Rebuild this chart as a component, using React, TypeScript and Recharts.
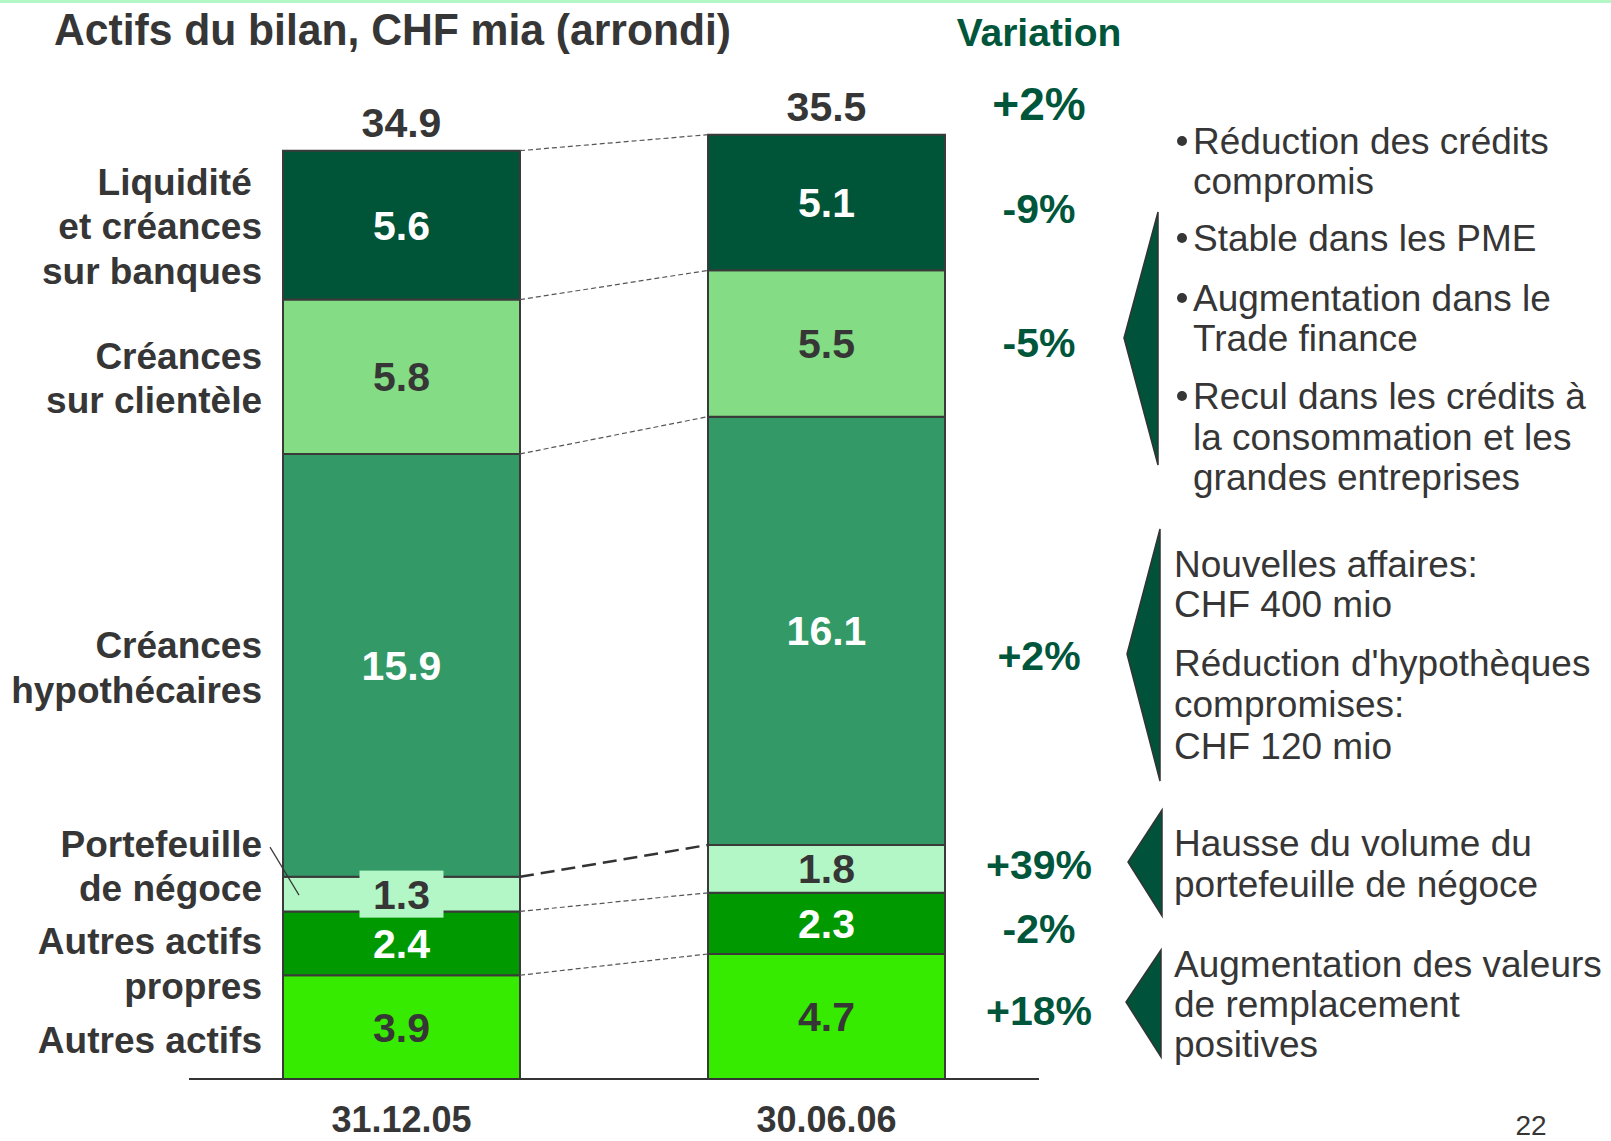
import React from 'react';
import { BarChart, Bar, XAxis, YAxis, LabelList } from 'recharts';

// values in CHF bn (stack order bottom -> top)
const categories = ['31.12.05', '30.06.06'];
const autresActifs = [3.9, 4.7];
const autresPropres = [2.4, 2.3];
const portefeuille = [1.3, 1.8];
const hypotheques = [15.9, 16.1];
const clientele = [5.8, 5.5];
const liquidite = [5.6, 5.1];
const totals = [34.9, 35.5];
const variations = ['+18%', '-2%', '+39%', '+2%', '-5%', '-9%'];
const totalVariation = '+2%';
const seriesLabels = [
  ['Autres actifs'],
  ['Autres actifs', 'propres'],
  ['Portefeuille', 'de négoce'],
  ['Créances', 'hypothécaires'],
  ['Créances', 'sur clientèle'],
  ['Liquidité\u00a0', 'et créances', 'sur banques'],
];

const FONT = '"Liberation Sans", Arial, Helvetica, sans-serif';
const TEXT = '#363636';
const GREEN = '#00563B';
const W = 1611;
const H = 1141;
const MARGIN = { top: 15, right: 572, bottom: 12, left: 189 };
const PLOT_W = W - MARGIN.left - MARGIN.right;
const BAR_SIZE = 237;

const series = [
  { key: 'autres', values: autresActifs, fill: '#36EB00', ink: TEXT },
  { key: 'propres', values: autresPropres, fill: '#009A00', ink: '#ffffff' },
  { key: 'portef', values: portefeuille, fill: '#B3F7C6', ink: TEXT },
  { key: 'hypo', values: hypotheques, fill: '#339966', ink: '#ffffff' },
  { key: 'client', values: clientele, fill: '#84DC84', ink: TEXT },
  { key: 'liq', values: liquidite, fill: '#005438', ink: '#ffffff' },
];

// vertical nudges for the side labels (style only)
const LEFT_NUDGE = [13, 20, -28, 2, 1, 1];
const VAR_NUDGE = [-6, 5, -4, 25, -1, 6];

const data = categories.map((cat, i) => {
  const row: any = { cat };
  series.forEach((s) => (row[s.key] = s.values[i]));
  return row;
});

// cumulative stack tops, used for the dashed connectors
const cumulative = (i: number) => {
  let acc = 0;
  return series.map((s) => (acc += s.values[i]));
};
const cum0 = cumulative(0);
const cum1 = cumulative(1);

const notes = [
  { t: 'Réduction des crédits', y: 141, b: true },
  { t: 'compromis', y: 181, x: 1193 },
  { t: 'Stable dans les PME', y: 238, b: true },
  { t: 'Augmentation dans le', y: 298, b: true },
  { t: 'Trade finance', y: 338, x: 1193 },
  { t: 'Recul dans les crédits à', y: 396, b: true },
  { t: 'la consommation et les', y: 437, x: 1193 },
  { t: 'grandes entreprises', y: 477, x: 1193 },
  { t: 'Nouvelles affaires:', y: 564 },
  { t: 'CHF 400 mio', y: 604 },
  { t: "Réduction d'hypothèques", y: 663 },
  { t: 'compromises:', y: 704 },
  { t: 'CHF 120 mio', y: 746 },
  { t: 'Hausse du volume du', y: 843 },
  { t: 'portefeuille de négoce', y: 884 },
  { t: 'Augmentation des valeurs', y: 964 },
  { t: 'de remplacement', y: 1004 },
  { t: 'positives', y: 1044 },
];

const arrows = [
  '1158,212 1124,338 1158,465',
  '1160,529 1127,654 1160,781',
  '1162,810 1128,862 1162,916',
  '1161,950 1126,1002 1161,1057',
];

const segmentLabel = (si: number) => (props: any) => {
  const vb = props.viewBox || props;
  const x = vb.x ?? props.x;
  const y0 = vb.y ?? props.y;
  const h0 = vb.height ?? props.height;
  const w = vb.width ?? props.width;
  const top = Math.min(y0, y0 + h0);
  const h = Math.abs(h0);
  const idx = props.index;
  const s = series[si];
  const cx = x + w / 2;
  const cy = top + h / 2;
  const out: React.ReactNode[] = [];

  if (h < 40) {
    out.push(<rect key="box" x={cx - 42} y={cy - 23.5} width={84} height={47} fill={s.fill} />);
  }
  out.push(
    <text key="v" x={cx} y={cy + 14.5} textAnchor="middle" fontSize={41} fontWeight="bold" fill={s.ink} fontFamily={FONT}>
      {s.values[idx].toFixed(1)}
    </text>
  );

  if (idx === 0) {
    const lines = seriesLabels[si];
    const c = cy + LEFT_NUDGE[si];
    lines.forEach((ln, li) => {
      const lc = c + (li - (lines.length - 1) / 2) * 44.5;
      out.push(
        <text key={'l' + li} x={x - 21} y={lc + 13} textAnchor="end" fontSize={37} fontWeight="bold" fill={TEXT} fontFamily={FONT}>
          {ln}
        </text>
      );
    });
    if (h < 40) {
      out.push(<line key="ptr" x1={x - 13} y1={cy - 47} x2={x + 16} y2={cy + 1} stroke={TEXT} strokeWidth={1.2} />);
    }
  }

  if (idx === 1) {
    // connector from the same stack level of the first bar, scaled from this segment's pixels
    const ppu = h / s.values[1];
    const base = top + cum1[si] * ppu;
    const y1 = base - cum0[si] * ppu;
    const x1 = x - (PLOT_W / 2 - w);
    const thick = si === 2;
    out.push(
      <line
        key="conn"
        x1={x1}
        y1={y1}
        x2={x}
        y2={top}
        stroke={thick ? '#333' : '#555'}
        strokeWidth={thick ? 2.5 : 1.2}
        strokeDasharray={thick ? '14 7' : '5 3'}
      />
    );
    out.push(
      <text key="var" x={cx + PLOT_W / 4} y={cy + VAR_NUDGE[si] + 14.5} textAnchor="middle" fontSize={41} fontWeight="bold" fill={GREEN} fontFamily={FONT}>
        {variations[si]}
      </text>
    );
  }

  if (si === series.length - 1) {
    out.push(
      <text key="tot" x={cx} y={top - 14} textAnchor="middle" fontSize={41} fontWeight="bold" fill={TEXT} fontFamily={FONT}>
        {totals[idx].toFixed(1)}
      </text>
    );
    if (idx === 1) {
      out.push(
        <text key="tv" x={cx + PLOT_W / 4} y={top - 15} textAnchor="middle" fontSize={46} fontWeight="bold" fill={GREEN} fontFamily={FONT}>
          {totalVariation}
        </text>
      );
    }
  }
  return <g>{out}</g>;
};

const DateTick = (props: any) => (
  <text x={props.x} y={props.y + 53} textAnchor="middle" fontSize={36} fontWeight="bold" fill={TEXT} fontFamily={FONT}>
    {props.payload.value}
  </text>
);

export default function App() {
  return (
    <div style={{ position: 'relative', width: W, height: H, background: '#fff', fontFamily: FONT }}>
      <style>{'body{margin:0}'}</style>
      <BarChart width={W} height={H} data={data} margin={MARGIN} barSize={BAR_SIZE}>
        <YAxis hide type="number" domain={[0, 40]} />
        <XAxis
          dataKey="cat"
          height={50}
          tickLine={false}
          tickSize={0}
          tickMargin={0}
          axisLine={{ stroke: '#333', strokeWidth: 2 }}
          tick={DateTick}
        />
        {series.map((s, si) => (
          <Bar key={s.key} dataKey={s.key} stackId="a" fill={s.fill} stroke="#3a3a3a" strokeWidth={2} isAnimationActive={false}>
            <LabelList dataKey={s.key} content={segmentLabel(si)} />
          </Bar>
        ))}
      </BarChart>
      <svg width={W} height={H} style={{ position: 'absolute', left: 0, top: 0, pointerEvents: 'none' }}>
        <rect x={0} y={0} width={W} height={3} fill="#B3F7C6" />
        <text x={54} y={45} fontSize={45} fontWeight="bold" fill={TEXT} fontFamily={FONT} textLength={677} lengthAdjust="spacingAndGlyphs">
          Actifs du bilan, CHF mia (arrondi)
        </text>
        <text x={1039} y={46} textAnchor="middle" fontSize={39} fontWeight="bold" fill={GREEN} fontFamily={FONT}>
          Variation
        </text>
        {arrows.map((p, i) => (
          <polygon key={i} points={p} fill="#00533A" stroke="#333" strokeWidth={1.5} />
        ))}
        {notes.map((n, i) => (
          <g key={i}>
            {n.b && <circle cx={1182} cy={n.y} r={5} fill={TEXT} />}
            <text x={n.b ? 1193 : n.x ?? 1174} y={n.y + 13} fontSize={37} fill={TEXT} fontFamily={FONT}>
              {n.t}
            </text>
          </g>
        ))}
        <text x={1531} y={1135} textAnchor="middle" fontSize={28} fill={TEXT} fontFamily={FONT}>
          22
        </text>
      </svg>
    </div>
  );
}
